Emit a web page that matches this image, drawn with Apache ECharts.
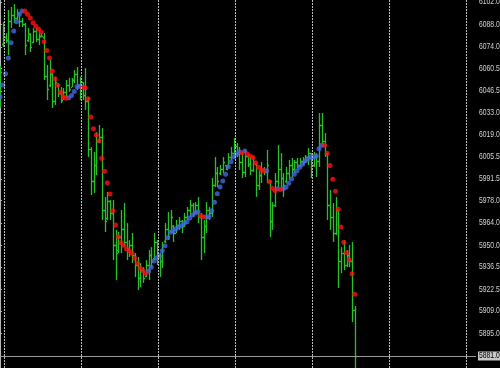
<!DOCTYPE html>
<html>
<head>
<meta charset="utf-8">
<script src="https://cdn.jsdelivr.net/npm/echarts@6/dist/echarts.min.js"></script>
<style>
html,body{margin:0;padding:0;background:#000;}
#chart{width:500px;height:368px;}
</style>
</head>
<body>
<div id="chart"></div>
<script>
// ---- data ----
const opens = [6040, 6076, 6080, 6078, 6090, 6094, 6092, 6095, 6090, 6088,
 6078, 6082, 6077, 6084, 6079, 6081, 6080, 6056, 6050, 6057,
 6040, 6050, 6045, 6041, 6046, 6050, 6049, 6053, 6057, 6050,
 6052, 6044, 6040, 6010, 5990, 6000, 6015, 6018, 5972, 5967,
 5978, 5970, 5950, 5947, 5955, 5960, 5952, 5948, 5950, 5944,
 5938, 5930, 5935, 5931, 5938, 5944, 5942, 5952, 5944, 5940,
 5953, 5960, 5959, 5962, 5958, 5963, 5965, 5962, 5968, 5972,
 5975, 5971, 5975, 5968, 5955, 5962, 5972, 5970, 5988, 5995,
 5995, 5998, 6000, 5999, 6005, 6008, 6012, 6008, 6002, 5996,
 6006, 6001, 5997, 6001, 5988, 5994, 5998, 5996, 5990, 5965,
 5975, 5990, 5998, 5992, 5990, 5995, 6000, 5998, 6002, 6000,
 6003, 6002, 6005, 6008, 6000, 6005, 6003, 6025, 6015, 6007,
 5975, 5968, 5958, 5972, 5940, 5945, 5938, 5944, 5940, 5910];
const highs = [6062, 6089.5, 6082.6, 6097, 6098.9, 6100.7, 6097.6, 6095.1, 6092, 6088.9,
 6085.8, 6082.6, 6085.8, 6085.8, 6084.5, 6082.6, 6082.6, 6062.7, 6065.8, 6057.7,
 6055.2, 6051.4, 6048.9, 6048.3, 6053.3, 6054.6, 6054.6, 6059.5, 6061.4, 6055.2,
 6052, 6060.8, 6042.7, 6011.5, 6008.4, 6020.8, 6025.2, 6023.3, 5980.3, 5983.4,
 5978.4, 5978.4, 5959.7, 5958.4, 5972.1, 5976.5, 5964, 5953.4, 5957.8, 5945.3,
 5942.8, 5939, 5936.5, 5940.9, 5947.2, 5949, 5957.8, 5953.4, 5945.3, 5952.2,
 5964, 5970.9, 5972.1, 5962.8, 5965.9, 5967.8, 5965.9, 5970.3, 5974, 5978.4,
 5976.5, 5977.1, 5980.3, 5970.3, 5965.9, 5977.1, 5974, 5992.1, 6005.2, 5999,
 6000.2, 6005.2, 6000.2, 6007.7, 6011.5, 6017.1, 6014, 6011.5, 6008.4, 6009.6,
 6006.5, 6005.2, 6005.2, 6001.5, 5997.1, 6002.1, 5999, 6009.6, 5990.9, 5977.1,
 5995.2, 6012.7, 6007.7, 5995.2, 5999, 6003.4, 6004.6, 6003.4, 6004.6, 6004.6,
 6005.2, 6006.5, 6010.9, 6007.7, 6008.4, 6007.7, 6032.7, 6032.7, 6020.2, 6007.7,
 5984.6, 5976.5, 5980.3, 5972.1, 5949, 5953.4, 5947.2, 5950.3, 5952.2, 5912.2];
const lows = [6036, 6073.9, 6076.4, 6068.9, 6085.8, 6088.9, 6090.8, 6086.4, 6086.4, 6068.9,
 6077, 6070.8, 6076.4, 6077, 6075.2, 6080, 6053.3, 6040.8, 6048.9, 6035.8,
 6037.7, 6042.7, 6038.9, 6040.8, 6042.7, 6045.8, 6048.9, 6051.4, 6047.1, 6040.8,
 6040.8, 6034.6, 6005.2, 5981.5, 5982.8, 5994, 6014, 5965.9, 5958.4, 5965.9,
 5965.9, 5940.9, 5928.4, 5945.3, 5945.3, 5949, 5940.9, 5942.8, 5939, 5930.3,
 5922.2, 5924.1, 5926.6, 5930.3, 5928.4, 5936.5, 5940.9, 5937.8, 5930.3, 5935.9,
 5951.5, 5953.4, 5957.8, 5952.2, 5957.8, 5959.7, 5957.8, 5961.5, 5965.9, 5967.8,
 5967.8, 5970.3, 5964, 5940.9, 5945.3, 5957.8, 5965.9, 5967.8, 5986.5, 5986.5,
 5994, 5995.2, 5997.1, 5999, 6003.4, 6004.6, 6005.2, 5997.1, 5992.1, 5992.7,
 5999, 5994, 5995.8, 5980.3, 5984.6, 5989, 5994, 5989, 5955.3, 5959.7,
 5974, 5986.5, 5984.6, 5980.3, 5989, 5990.9, 5992.7, 5995.2, 5998.4, 5999,
 6000.2, 6001.5, 6000.2, 5992.1, 5999, 5992.7, 5999, 6011.5, 6005.2, 5965.9,
 5959.7, 5952.2, 5956.5, 5923.5, 5932.8, 5934.7, 5936.5, 5936.5, 5902.2, 5868];
const closes = [6058, 6085, 6078, 6090, 6094, 6092, 6095, 6090, 6088, 6075,
 6082, 6074, 6084, 6079, 6081, 6080.5, 6056, 6048, 6060, 6040,
 6052, 6045, 6041, 6046, 6050, 6048, 6053, 6057, 6050, 6052,
 6044, 6040, 6010, 5990, 6000, 6015, 6018, 5972, 5965, 5978,
 5970, 5950, 5945, 5955, 5960, 5952, 5948, 5950, 5944, 5938,
 5930, 5935, 5930, 5938, 5944, 5940, 5952, 5944, 5940, 5950,
 5960, 5956, 5968, 5958, 5963, 5965, 5962, 5968, 5972, 5975,
 5970, 5975, 5968, 5955, 5962, 5972, 5970, 5988, 5995, 5990,
 5998, 6002, 5998, 6005, 6008, 6012, 6008, 6002, 5996, 6006,
 6001, 5997, 6002, 5988, 5994, 5998, 5996, 6000, 5965, 5975,
 5990, 5998, 5992, 5988, 5995, 6000, 5998, 6002, 6000, 6003,
 6002, 6005, 6008, 6000, 6005, 6003, 6025, 6015, 6008, 5975,
 5968, 5958, 5972, 5940, 5945, 5938, 5944, 5940, 5910, 5881];
// Parabolic SAR value per bar and its side (1 = below price / blue, 0 = above price / red)
const sar = [6042.9, 6050.2, 6057.2, 6067.0, 6076.6, 6083.9, 6089.7, 6094.3, 6096.4, 6096.4,
 6094.3, 6092.0, 6089.1, 6087.0, 6085.1, 6083.3, 6077.2, 6071.8, 6067.0, 6058.9,
 6054.1, 6050.0, 6045.6, 6042.9, 6041.9, 6042.3, 6043.6, 6046.1, 6049.1, 6049.4,
 6048.7, 6048.5, 6041.6, 6030.2, 6022.9, 6019.0, 6015.4, 6004.4, 5996.3, 5989.2,
 5982.1, 5971.7, 5962.8, 5955.5, 5951.7, 5950.1, 5947.8, 5946.7, 5945.1, 5942.0,
 5938.9, 5935.8, 5934.3, 5932.6, 5934.1, 5936.4, 5940.3, 5942.4, 5943.4, 5946.7,
 5949.9, 5954.9, 5958.2, 5959.2, 5960.5, 5961.7, 5962.3, 5963.8, 5964.8, 5967.1,
 5969.0, 5970.3, 5971.1, 5968.6, 5967.8, 5967.8, 5968.0, 5971.7, 5977.0, 5982.3,
 5986.5, 5990.2, 5994.4, 5999.2, 6002.3, 6005.2, 6007.1, 6008.5, 6007.9, 6009.0,
 6007.1, 6005.9, 6005.0, 6001.7, 5998.8, 5997.1, 5996.7, 5996.7, 5989.8, 5985.7,
 5984.4, 5985.4, 5985.0, 5985.4, 5986.3, 5988.8, 5991.5, 5994.4, 5996.7, 5998.8,
 6000.7, 6002.7, 6004.2, 6005.2, 6005.4, 6005.9, 6010.4, 6012.5, 6012.5, 6007.5,
 6000.0, 5991.3, 5983.8, 5972.6, 5961.5, 5952.0, 5945.5, 5941.1, 5932.4, 5919.5];
const sarUp = [1,1,1,1,1,1,1,1,1,0,
 0,0,0,0,0,0,0,0,0,0,
 0,0,0,0,0,1,1,1,1,1,
 0,0,0,0,0,0,0,0,0,0,
 0,0,0,0,0,0,0,0,0,0,
 0,0,0,0,1,1,1,1,1,1,
 1,1,1,1,1,1,1,1,1,1,
 1,1,1,0,0,1,1,1,1,1,
 1,1,1,1,1,1,1,1,0,1,
 0,0,0,0,0,0,0,1,0,0,
 0,1,0,1,1,1,1,1,1,1,
 1,1,1,1,1,1,1,1,0,0,
 0,0,0,0,0,0,0,0,0,0];
const priceTicks = [6102.0, 6088.0, 6074.0, 6060.5, 6046.5, 6033.0, 6019.0, 6005.5, 5991.5,
 5978.0, 5964.0, 5950.0, 5936.5, 5922.5, 5909.0, 5895.0];
const lastPrice = 5881.0;
const gridFirstBar = 1.45;   // bar position of the first vertical grid line
const gridEveryBars = 28;    // bars between vertical grid lines
const gridLineCount = 7;

// ---- chart ----
const barColor = '#28c028';
const barData = opens.map((o, i) => [i, o, highs[i], lows[i], closes[i]]);
const blueDots = [], redDots = [];
sar.forEach((v, i) => { (sarUp[i] ? blueDots : redDots).push([i, v]); });
const vGrid = [];
for (let k = 0; k < gridLineCount; k++) vGrid.push({ xAxis: gridFirstBar + k * gridEveryBars });
const labelFont = "'Liberation Sans', Arial, sans-serif";

const chart = echarts.init(document.getElementById('chart'), null, { renderer: 'canvas' });
chart.setOption({
  backgroundColor: '#000000',
  animation: false,
  grid: { left: 0, right: 24, top: 0, bottom: 0, containLabel: false, outerBoundsMode: 'none' },
  xAxis: {
    type: 'value', min: -0.005, max: 173.09, show: false,
    splitLine: { show: false }
  },
  yAxis: {
    type: 'value', position: 'right', min: 5873.51, max: 6103.25,
    axisLine: { show: true, lineStyle: { color: '#b4b4b4', width: 1 } },
    axisTick: { show: true, length: 2, customValues: priceTicks, lineStyle: { color: '#b4b4b4' } },
    axisLabel: { show: false },
    splitLine: { show: false }
  },
  series: [
    {
      type: 'line', data: [], z: 1, silent: true,
      markLine: {
        silent: true, symbol: ['none', 'none'], animation: false,
        label: { show: false },
        lineStyle: { color: '#bdbdbd', width: 1, type: [2, 1], opacity: 1 },
        emphasis: { disabled: true },
        data: vGrid
      }
    },
    {
      type: 'custom', z: 2, clip: true,
      data: barData,
      encode: { x: 0, y: [1, 2, 3, 4] },
      renderItem: function (params, api) {
        const i = api.value(0);
        const po = api.coord([i, api.value(1)]);
        const ph = api.coord([i, api.value(2)]);
        const pl = api.coord([i, api.value(3)]);
        const pc = api.coord([i, api.value(4)]);
        const x = Math.round(ph[0]) + 0.5;
        const yo = Math.round(po[1]) + 0.5;
        const yc = Math.round(pc[1]) + 0.5;
        const style = { stroke: barColor, lineWidth: 1.3 };
        return {
          type: 'group',
          children: [
            { type: 'line', shape: { x1: x, y1: ph[1], x2: x, y2: pl[1] }, style: style },
            { type: 'line', shape: { x1: x - 1.5, y1: yo, x2: x - 0.5, y2: yo }, style: style },
            { type: 'line', shape: { x1: x + 0.5, y1: yc, x2: x + 1.5, y2: yc }, style: style }
          ]
        };
      },
      markLine: {
        silent: true, symbol: ['none', 'none'], animation: false,
        lineStyle: { color: '#9a9a9a', width: 1, type: 'solid' },
        emphasis: { disabled: true },
        label: { show: false },
        data: [{ yAxis: lastPrice }]
      }
    },
    {
      type: 'scatter', z: 3, data: blueDots, symbol: 'circle', symbolSize: 5,
      itemStyle: { color: '#4169e1' }, silent: true
    },
    {
      type: 'scatter', z: 3, data: redDots, symbol: 'circle', symbolSize: 5,
      itemStyle: { color: '#ff1010' }, silent: true
    }
  ]
});

// Price-scale labels: placed through the y axis scale, drawn slightly condensed like the original
const axisX = chart.convertToPixel({ xAxisIndex: 0 }, 173.09);
const labelX = axisX + 3;
const graphics = priceTicks.map(v => ({
  type: 'text', x: labelX, y: chart.convertToPixel({ yAxisIndex: 0 }, v),
  scaleX: 0.8, silent: true, z: 10,
  style: { text: v.toFixed(1), fill: '#d4d4d4', fontSize: 8.5, fontFamily: labelFont, verticalAlign: 'middle', align: 'left' }
}));
const lastY = chart.convertToPixel({ yAxisIndex: 0 }, lastPrice);
graphics.push({
  type: 'rect', silent: true, z: 10,
  shape: { x: labelX - 1, y: Math.round(lastY) - 4.5, width: 22, height: 9 },
  style: { fill: '#c8c8c8' }
});
graphics.push({
  type: 'text', x: labelX, y: lastY, scaleX: 0.8, silent: true, z: 11,
  style: { text: lastPrice.toFixed(1), fill: '#000000', fontSize: 8.5, fontFamily: labelFont, verticalAlign: 'middle', align: 'left' }
});
chart.setOption({ graphic: graphics });
</script>
</body>
</html>
